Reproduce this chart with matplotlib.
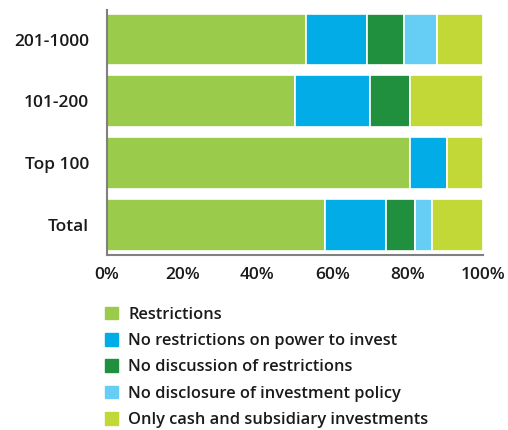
import matplotlib.pyplot as plt
import numpy as np

plt.rcParams['font.family'] = ['Open Sans', 'DejaVu Sans']

groups = ['Total', 'Top 100', '101-200', '201-1000']
series = ['Restrictions', 'No restrictions on power to invest',
          'No discussion of restrictions', 'No disclosure of investment policy',
          'Only cash and subsidiary investments']
restrictions = [57.9, 80.6, 50.0, 52.8]
no_restrictions = [16.2, 9.9, 19.9, 16.4]
no_discussion = [7.9, 0.0, 10.7, 9.9]
no_disclosure = [4.3, 0.0, 0.0, 8.7]
only_cash = [13.7, 9.5, 19.4, 12.2]
colors = ['#9bcb4b', '#02ace6', '#20903f', '#66cdf4', '#c2d836']

fig = plt.figure(figsize=(5.08, 4.3), dpi=100)
ax = fig.add_axes([0.2106, 0.407, 0.7404, 0.570])

y = np.arange(len(groups))
left = np.zeros(len(groups))
for vals, name, col in zip([restrictions, no_restrictions, no_discussion,
                            no_disclosure, only_cash], series, colors):
    vals = np.array(vals)
    ax.barh(y, vals, left=left, height=0.84, color=col,
            edgecolor='white', linewidth=1.2)
    left += vals

ax.set_xlim(0, 100)
ax.set_ylim(-0.49, 3.48)
ax.set_yticks(y)
ax.set_yticklabels(groups, fontsize=12.5, fontweight='semibold', color='#1a1a1a')
ax.set_xticks([0, 20, 40, 60, 80, 100])
ax.set_xticklabels(['0%', '20%', '40%', '60%', '80%', '100%'], fontsize=12.5,
                   fontweight='semibold', color='#1a1a1a')
ax.tick_params(axis='y', length=0, pad=13)
ax.tick_params(axis='x', length=0, pad=9)
for s in ['top', 'right']:
    ax.spines[s].set_visible(False)
for s in ['left', 'bottom']:
    ax.spines[s].set_color('#808080')
    ax.spines[s].set_linewidth(1.5)

# legend squares without the white bar edges
handles = [plt.Rectangle((0, 0), 1, 1, color=c) for c in colors]
fig.legend(handles=handles, labels=series, loc='upper left',
           bbox_to_anchor=(0.193, 0.302), frameon=False,
           prop={'size': 11.8, 'weight': 'semibold'}, labelcolor='#1a1a1a',
           handlelength=0.8, handleheight=0.8, handletextpad=0.65,
           labelspacing=0.63, borderaxespad=0)

fig.savefig('out.png', dpi=100)
